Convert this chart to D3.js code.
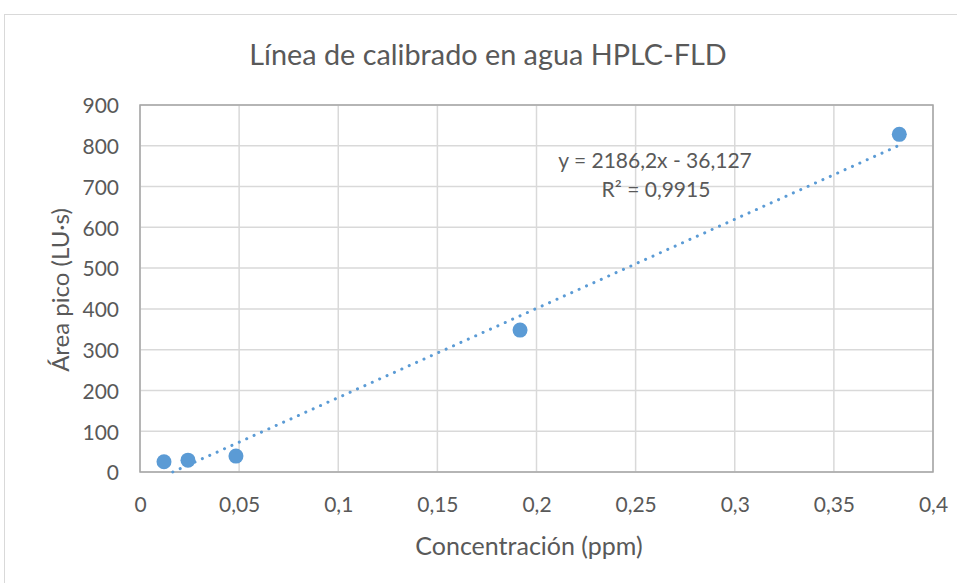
<!DOCTYPE html>
<html><head><meta charset="utf-8">
<script src="https://cdn.jsdelivr.net/npm/d3@7"></script>
<style>body{margin:0;background:#fff}svg{display:block}text{font-family:Lato,sans-serif;fill:#595959}</style>
</head><body><svg id="c" width="957" height="583"></svg>
<script>
const concentration = [0.0121, 0.0242, 0.0484, 0.1917, 0.383];
const area = [25, 29, 39, 348, 828];
const slope = 2186.2, intercept = -36.127;
const xTicks = [0, 0.05, 0.1, 0.15, 0.2, 0.25, 0.3, 0.35, 0.4];
const yTicks = [0, 100, 200, 300, 400, 500, 600, 700, 800, 900];
const title = "Línea de calibrado en agua HPLC-FLD";
const xTitle = "Concentración (ppm)";
const yTitle = "Área pico (LU·s)";
const eqText = "y = 2186,2x - 36,127";
const r2Text = "R² = 0,9915";

const svg = d3.select("#c");
const L = 140, R = 933, T = 105, B = 472;
const x = d3.scaleLinear().domain([0, 0.4]).range([L, R]);
const y = d3.scaleLinear().domain([0, 900]).range([B, T]);
const fmt = d => String(d).replace(".", ",");

svg.append("rect").attr("x", 4.5).attr("y", 14.5).attr("width", 1000).attr("height", 1000)
  .attr("fill", "none").attr("stroke", "#d9d9d9").attr("stroke-width", 1);

svg.append("text").attr("x", 488).attr("y", 65).attr("text-anchor", "middle")
  .attr("font-size", 28.8).text(title);

// gridlines
const g = svg.append("g");
g.selectAll("line.v").data(xTicks).join("line")
  .attr("x1", d => x(d)).attr("x2", d => x(d)).attr("y1", T).attr("y2", B)
  .attr("stroke", "#d9d9d9").attr("stroke-width", 1.5);
g.selectAll("line.h").data(yTicks).join("line")
  .attr("y1", d => y(d)).attr("y2", d => y(d)).attr("x1", L).attr("x2", R)
  .attr("stroke", "#d9d9d9").attr("stroke-width", 1.5);
svg.append("rect").attr("x", L).attr("y", T).attr("width", R - L).attr("height", B - T)
  .attr("fill", "none").attr("stroke", "#a6a6a6").attr("stroke-width", 1.5);

// axes labels via d3 axes
const xa = svg.append("g").attr("transform", `translate(0,${B})`)
  .call(d3.axisBottom(x).tickValues(xTicks).tickFormat(fmt).tickSize(0).tickPadding(0));
const ya = svg.append("g").attr("transform", `translate(${L},0)`)
  .call(d3.axisLeft(y).tickValues(yTicks).tickSize(0).tickPadding(21));
[xa, ya].forEach(a => { a.select(".domain").remove(); a.selectAll("text").attr("font-size", 21).attr("fill", "#595959").attr("font-family", "Lato"); });
xa.selectAll("text").attr("dy", null).attr("y", 40);
ya.selectAll("text").attr("dy", "0.37em");

svg.append("text").attr("x", 529).attr("y", 555).attr("text-anchor", "middle")
  .attr("font-size", 25).text(xTitle);
svg.append("text").attr("transform", "translate(69,290) rotate(-90)").attr("text-anchor", "middle")
  .attr("font-size", 24).text(yTitle);

// trendline
const x0 = Math.max(d3.min(concentration), -intercept / slope);
const x1 = d3.max(concentration);
svg.append("line").attr("x1", x(x0)).attr("y1", y(slope * x0 + intercept))
  .attr("x2", x(x1)).attr("y2", y(slope * x1 + intercept))
  .attr("stroke", "#5B9BD5").attr("stroke-width", 3).attr("stroke-linecap", "round")
  .attr("stroke-dasharray", "0.1 8");

// points
svg.selectAll("circle").data(concentration).join("circle")
  .attr("cx", d => x(d)).attr("cy", (d, i) => y(area[i])).attr("r", 7.5)
  .attr("fill", "#5B9BD5");

svg.append("text").attr("x", 655).attr("y", 168).attr("text-anchor", "middle").attr("font-size", 21).text(eqText);
svg.append("text").attr("x", 656).attr("y", 197).attr("text-anchor", "middle").attr("font-size", 21).text(r2Text);
</script></body></html>
